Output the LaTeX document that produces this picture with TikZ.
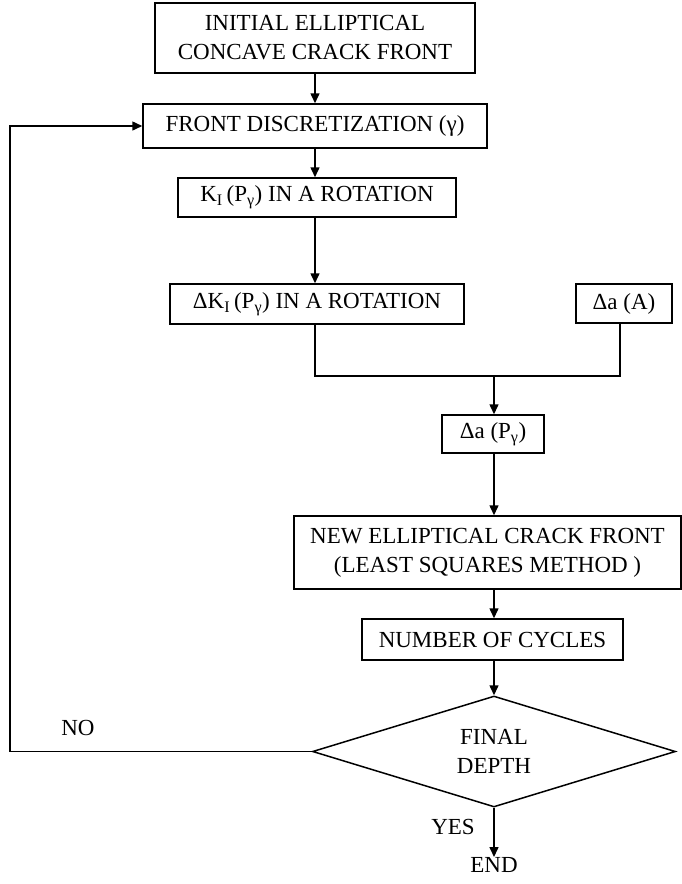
\documentclass[tikz,border=0pt]{standalone}
\usepackage{fontspec}
\setmainfont{Liberation Serif}
\usetikzlibrary{shapes.geometric,arrows.meta}
\begin{document}
\begin{tikzpicture}[x=1pt,y=-1pt,
  txt/.style={font=\fontsize{23}{29}\selectfont},
  box/.style={draw, line width=1.5pt, inner sep=0pt, align=center, txt},
  arr/.style={-{Triangle[length=10pt,width=9pt]}, line width=1.5pt},
  ln/.style={line width=1.5pt},
  lbl/.style={inner sep=0pt, txt}]
\useasboundingbox (0,0) rectangle (682,884);

\node[box, minimum width=320pt, minimum height=70pt] (b1) at (315,38) {INITIAL ELLIPTICAL\\CONCAVE CRACK FRONT};
\node[box, minimum width=344pt, minimum height=44pt] (b2) at (315,126) {FRONT DISCRETIZATION (γ)};
\node[box, minimum width=278pt, minimum height=39pt] (b3) at (317,197.5) {K\textsubscript{I}\,(P\textsubscript{γ}) IN A ROTATION};
\node[box, minimum width=294pt, minimum height=40pt] (b4) at (317,304) {ΔK\textsubscript{I}\,(P\textsubscript{γ}) IN A ROTATION};
\node[box, minimum width=96pt, minimum height=39pt] (b5) at (624,303.5) {Δa (A)};
\node[box, minimum width=102pt, minimum height=38pt] (b6) at (493,434) {Δa (P\textsubscript{γ})};
\node[box, minimum width=387pt, minimum height=73pt] (b7) at (487.5,552.5) {NEW ELLIPTICAL CRACK FRONT\\(LEAST SQUARES METHOD )};
\node[box, minimum width=261pt, minimum height=41pt] (b8) at (492.5,639.5) {NUMBER OF CYCLES};
\node[draw, line width=1.5pt, diamond, inner sep=0pt, minimum width=363pt, minimum height=111pt, aspect=3.27, align=center, txt] (d) at (494,751.5) {FINAL\\DEPTH};

\node[lbl] (no) at (78,728) {NO};
\node[lbl] (yes) at (453,827) {YES};
\node[lbl, anchor=north] (end) at (494,857) {END};

\coordinate (j) at (494,376);
\coordinate (lp) at (10,751.5);

\draw[arr] (b1.south -| 315,0) -- (b2.north -| 315,0);
\draw[arr] (b2.south -| 315,0) -- (b3.north -| 315,0);
\draw[arr] (b3.south -| 315,0) -- (b4.north -| 315,0);
\draw[ln] (b4.south -| 315,0) -- (315,376) -- (j) -- (620,376) -- (b5.south -| 620,0);
\draw[arr] (j) -- (b6.north -| j);
\draw[arr] (b6.south -| j) -- (b7.north -| j);
\draw[arr] (b7.south -| j) -- (b8.north -| j);
\draw[arr] (b8.south -| j) -- (d.north);
\draw[arr] (d.west) -- (lp) |- (b2.west);
\draw[arr] (d.south) -- (end.north);
\end{tikzpicture}
\end{document}
